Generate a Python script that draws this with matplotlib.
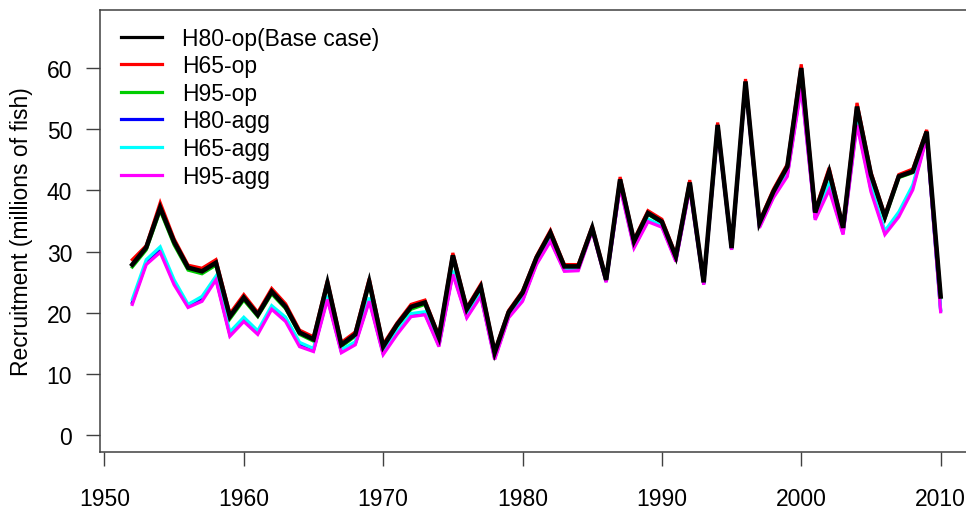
import numpy as np
import matplotlib
matplotlib.use("Agg")
import matplotlib.pyplot as plt

plt.rcParams['font.family'] = ['Liberation Sans', 'DejaVu Sans']

years = list(range(1952, 2011))

h80_op = [27.9, 30.7, 37.2, 31.6, 27.4, 26.8, 28.2, 19.4, 22.5, 19.7, 23.5, 21.0, 16.8, 15.7,
          24.9, 14.8, 16.5, 25.1, 14.5, 18.1, 21.0, 21.7, 16.0, 29.4, 20.6, 24.3, 13.5, 20.1,
          23.3, 29.0, 33.1, 27.6, 27.6, 33.9, 25.4, 41.8, 31.7, 36.3, 34.9, 29.2, 41.3, 25.0,
          50.7, 30.6, 57.8, 34.7, 39.8, 43.9, 60.0, 36.4, 43.1, 33.9, 53.7, 42.6, 35.7, 42.3,
          43.1, 49.6, 22.7]
h65_op = [28.7, 31.0, 38.0, 32.1, 27.8, 27.3, 28.7, 19.9, 23.0, 20.1, 24.0, 21.5, 17.2, 16.1,
          25.3, 15.2, 16.9, 25.6, 14.9, 18.4, 21.4, 22.1, 16.3, 29.8, 20.9, 24.7, 13.8, 20.4,
          23.6, 29.3, 33.5, 27.9, 27.9, 34.2, 25.7, 42.2, 32.0, 36.7, 35.3, 29.5, 41.7, 25.3,
          51.1, 30.9, 58.2, 35.0, 40.2, 44.3, 60.6, 36.8, 43.7, 34.2, 54.3, 43.0, 36.0, 42.6,
          43.5, 49.9, 22.9]
h95_op = [27.5, 30.3, 36.7, 31.1, 27.0, 26.4, 27.8, 19.0, 22.1, 19.4, 23.1, 20.7, 16.5, 15.4,
          24.6, 14.5, 16.2, 24.8, 14.3, 17.8, 20.6, 21.4, 15.8, 29.1, 20.4, 24.0, 13.3, 19.9,
          23.1, 28.8, 32.8, 27.4, 27.4, 33.7, 25.2, 41.5, 31.5, 36.1, 34.7, 29.0, 41.0, 24.8,
          50.4, 30.4, 57.5, 34.5, 39.5, 43.6, 59.6, 36.1, 42.8, 33.7, 53.4, 42.3, 35.4, 42.1,
          42.9, 49.5, 22.5]
h80_agg = [21.7, 28.2, 30.3, 24.9, 21.1, 22.2, 25.7, 16.5, 18.9, 16.8, 20.9, 18.9, 14.8, 13.9,
           22.5, 13.7, 15.0, 22.2, 13.4, 16.8, 19.6, 19.9, 14.7, 26.6, 19.4, 22.9, 12.6, 19.4,
           22.1, 28.1, 31.9, 27.0, 27.1, 33.6, 25.1, 40.8, 30.8, 35.1, 34.2, 28.6, 40.6, 24.7,
           50.2, 30.4, 57.4, 34.1, 39.0, 42.6, 57.2, 35.5, 40.6, 33.0, 51.2, 40.2, 33.1, 36.1,
           40.5, 48.8, 20.5]
h65_agg = [22.2, 28.7, 30.8, 25.4, 21.4, 22.7, 26.0, 16.9, 19.3, 17.1, 21.2, 19.3, 15.2, 14.2,
           22.8, 14.0, 15.3, 22.5, 13.6, 17.0, 19.9, 20.2, 14.9, 26.9, 19.6, 23.1, 12.8, 19.5,
           22.3, 28.3, 32.1, 27.2, 27.3, 33.8, 25.2, 41.0, 31.0, 35.3, 34.3, 28.7, 40.8, 24.8,
           50.3, 30.5, 57.5, 34.3, 39.2, 42.9, 57.6, 35.8, 41.1, 33.2, 51.7, 40.7, 33.4, 36.5,
           40.9, 49.0, 20.4]
h95_agg = [21.4, 27.9, 29.9, 24.6, 20.9, 21.9, 25.4, 16.2, 18.6, 16.5, 20.6, 18.6, 14.5, 13.7,
           22.2, 13.5, 14.8, 21.9, 13.2, 16.5, 19.4, 19.7, 14.5, 26.3, 19.2, 22.7, 12.4, 19.2,
           21.9, 27.9, 31.7, 26.8, 26.9, 33.4, 25.0, 40.5, 30.6, 34.9, 34.0, 28.4, 40.3, 24.6,
           50.0, 30.3, 57.2, 33.9, 38.8, 42.3, 56.8, 35.2, 40.1, 32.8, 50.7, 39.8, 32.8, 35.7,
           40.1, 48.6, 20.2]

labels = ["H80-op(Base case)", "H65-op", "H95-op", "H80-agg", "H65-agg", "H95-agg"]
colors = ["#000000", "#FF0000", "#00CD00", "#0000FF", "#00FFFF", "#FF00FF"]
series = [h80_op, h65_op, h95_op, h80_agg, h65_agg, h95_agg]

xticks = [1950, 1960, 1970, 1980, 1990, 2000, 2010]
yticks = [0, 10, 20, 30, 40, 50, 60]

FS = 16.5

fig = plt.figure(figsize=(9.66, 5.10), dpi=100)
ax = fig.add_axes([0.1035, 0.1118, 0.9037, 0.867])

handles = []
for i, (s, c, lab) in enumerate(zip(series, colors, labels)):
    lw = 3.3 if i == 0 else 2.3
    z = 10 if i == 0 else 3 + i
    h, = ax.plot(years, s, color=c, lw=lw, label=lab, zorder=z, solid_joinstyle='miter')
    handles.append(h)

ax.set_xlim(1949.68, 2012.32)
ax.set_ylim(-2.7, 69.5)
ax.set_xticks(xticks)
ax.set_yticks(yticks)
ax.tick_params(axis='both', direction='out', length=10, width=1.0, color='#404040',
               labelsize=FS, labelcolor='black')
ax.tick_params(axis='x', pad=15)
ax.tick_params(axis='y', pad=10)
for sp in ax.spines.values():
    sp.set_color('#404040')
    sp.set_linewidth(1.1)

ax.set_ylabel("Recruitment (millions of fish)", fontsize=FS, labelpad=10)

leg = ax.legend(handles=handles, loc='upper left', bbox_to_anchor=(0.024, 0.962),
                frameon=False, fontsize=FS, handlelength=1.8, handletextpad=0.87,
                labelspacing=0.2, borderpad=0, borderaxespad=0)
for lh in leg.get_lines():
    lh.set_linewidth(2.3)

fig.savefig("out.png", dpi=100)
